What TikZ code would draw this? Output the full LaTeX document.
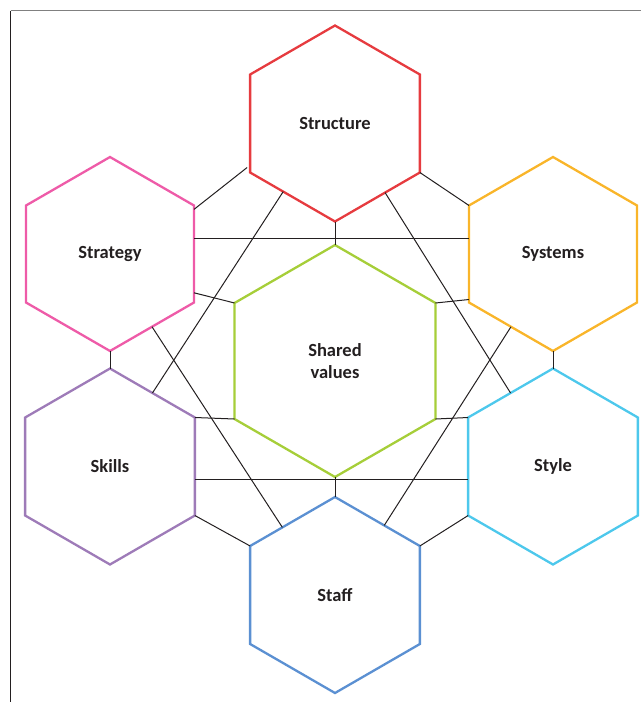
\documentclass[tikz,border=0pt]{standalone}
\usepackage{fontspec}
\setmainfont{Carlito}
\usetikzlibrary{calc}

\definecolor{cStructure}{HTML}{E63B3F}
\definecolor{cStrategy}{HTML}{EE5BA8}
\definecolor{cSystems}{HTML}{F9B52A}
\definecolor{cShared}{HTML}{A6CE39}
\definecolor{cSkills}{HTML}{9E7BB8}
\definecolor{cStyle}{HTML}{4DC8EC}
\definecolor{cStaff}{HTML}{5B90D2}
\definecolor{inkgray}{HTML}{231F20}

% pointy-top hexagon: name, centre x, centre y, circumradius, colour, label
% corners: -1 top, -2 upper left, -3 lower left, -4 bottom, -5 lower right, -6 upper right
\newcommand{\hexcell}[6]{%
  \node[lbl] (#1) at (#2,#3) {#6};
  \path (#2,#3) ++(0,-#4) coordinate (#1-1)
        (#2,#3) ++(-0.8660254*#4,-0.5*#4) coordinate (#1-2)
        (#2,#3) ++(-0.8660254*#4,0.5*#4) coordinate (#1-3)
        (#2,#3) ++(0,#4) coordinate (#1-4)
        (#2,#3) ++(0.8660254*#4,0.5*#4) coordinate (#1-5)
        (#2,#3) ++(0.8660254*#4,-0.5*#4) coordinate (#1-6);
  \draw[hexline,draw=#5] (#1-1) -- (#1-2) -- (#1-3) -- (#1-4) -- (#1-5) -- (#1-6) -- cycle;
}

\begin{document}
\begin{tikzpicture}[x=1pt,y=-1pt,
  hexline/.style={line width=2.3pt,line join=miter},
  link/.style={line width=1pt,draw=inkgray},
  lbl/.style={font=\bfseries\fontsize{18.5}{22}\selectfont,text=inkgray,align=center,inner sep=0pt}]
\useasboundingbox (0,0) rectangle (641,702);

% frame
\coordinate (fTL) at (10.5,10.5);
\coordinate (fTR) at (641,10.5);
\coordinate (fBL) at (10.5,702);
\draw[line width=1.5pt,draw=black!50] (fTL) -- (fTR);
\draw[line width=1.5pt,draw=inkgray] (fTL) -- (fBL);

% the seven cells
\hexcell{structure}{335}{123.5}{98}{cStructure}{Structure}
\hexcell{strategy}{110}{254}{97}{cStrategy}{Strategy}
\hexcell{systems}{553}{254}{97}{cSystems}{Systems}
\hexcell{shared}{335}{361}{116}{cShared}{Shared\\values}
\hexcell{skills}{110}{466.5}{98}{cSkills}{Skills}
\hexcell{style}{553}{466.5}{98}{cStyle}{Style}
\hexcell{staff}{335}{595}{98}{cStaff}{Staff}

% short vertical links
\draw[link] (structure-4) -- (shared-1);
\draw[link] (strategy-4) -- (skills-1);
\draw[link] (systems-4) -- (style-1);
\draw[link] (shared-4) -- (staff-1);

% horizontal links
\draw[link] ($(strategy-6)!0.335!(strategy-5)$) -- ($(systems-2)!0.335!(systems-3)$);
\draw[link] ($(skills-6)!0.63!(skills-5)$) -- ($(style-2)!0.63!(style-3)$);

% links around the ring
\draw[link] ($(strategy-6)!0.04!(strategy-5)$) -- ($(structure-3)+(-3,-5)$);
\draw[link] (structure-5) -- (systems-2);
\draw[link] ($(strategy-6)!0.9!(strategy-5)$) -- (shared-2);
\draw[link] (shared-6) -- ($(systems-3)+(0,-3)$);
\draw[link] (skills-6) -- (shared-3);
\draw[link] (shared-5) -- (style-2);
\draw[link] (skills-5) -- (staff-2);
\draw[link] (style-3) -- (staff-6);

% long diagonals
\draw[link] ($(structure-3)!0.39!(structure-4)$) -- ($(skills-1)!0.5!(skills-6)$);
\draw[link] ($(structure-5)!0.41!(structure-4)$) -- ($(style-1)!0.5!(style-2)$);
\draw[link] ($(strategy-4)!0.5!(strategy-5)$) -- ($(staff-2)!0.38!(staff-1)$);
\draw[link] ($(systems-4)!0.5!(systems-3)$) -- ($(staff-6)!0.42!(staff-1)$);
\end{tikzpicture}
\end{document}
